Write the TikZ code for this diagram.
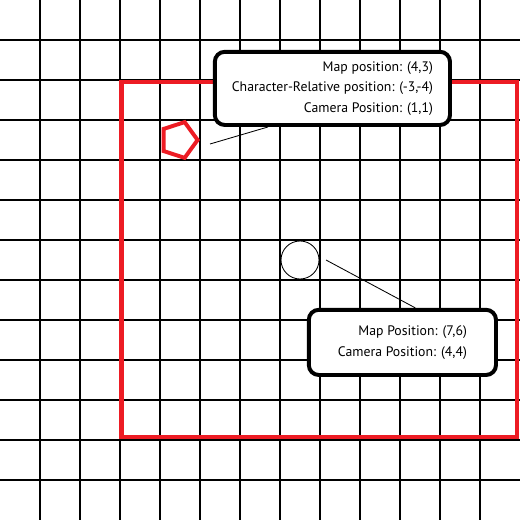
\documentclass[tikz,border=0pt]{standalone}
\usepackage{fontspec}
\setmainfont{PT Sans}
\usetikzlibrary{shapes.geometric}
\definecolor{viewred}{RGB}{237,28,36}

\begin{document}
\begin{tikzpicture}[x=1cm,y=-1cm,font=\fontsize{9.8}{14.6}\selectfont,
  gridline/.style={line width=1.8pt},
  infobox/.style={draw,line width=2.8pt,rounded corners=0.25cm,fill=white,align=right,inner sep=0pt},
  pointer/.style={line width=0.6pt}]
\useasboundingbox (0,0) rectangle (13,13);
\foreach \i in {1,...,12}{
  \draw[gridline] (\i,0) -- (\i,13);
  \draw[gridline] (0,\i) -- (13,\i);
}
% camera view
\draw[viewred,line width=3.2pt] (3.04,2.05) rectangle (12.93,10.93);
\node[regular polygon,regular polygon sides=5,regular polygon rotate=-90,draw=viewred,line width=2.8pt,minimum size=0.94cm,inner sep=0pt] (player) at (4.47,3.5) {};
\node[circle,draw,line width=0.6pt,minimum size=0.95cm,inner sep=0pt] (npc) at (7.5,6.5) {};
\coordinate (playerTip) at (5.25,3.6);
\coordinate (npcTip) at (8.15,6.5);
\coordinate (mapTail) at (6.7,0);
\coordinate (camTail) at (10.38,0);
% labels
\node[infobox,minimum width=5.88cm,minimum height=1.83cm] (mapInfo) at (8.31,2.21) {Map position: (4,3)\\Character-Relative position: (-3,-4)\\Camera Position: (1,1)};
\node[infobox,minimum width=4.68cm,minimum height=1.63cm] (camInfo) at (10.06,8.56) {Map Position: (7,6)\\Camera Position: (4,4)};
\draw[pointer] (playerTip) -- (mapTail |- mapInfo.south);
\draw[pointer] (npcTip) -- (camTail |- camInfo.north);
\end{tikzpicture}
\end{document}
